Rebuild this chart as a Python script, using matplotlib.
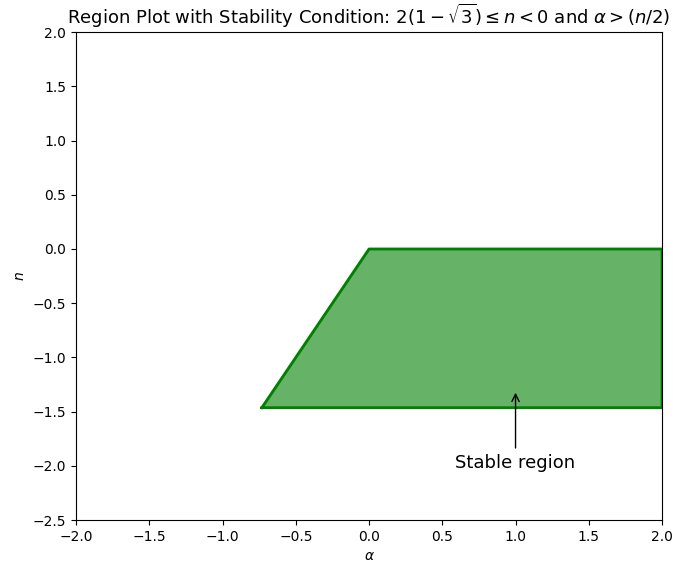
import numpy as np
import matplotlib
matplotlib.use("Agg")
import matplotlib.pyplot as plt

# stability condition: 2(1 - sqrt(3)) <= n < 0 and alpha > n/2
n_bounds = [2 * (1 - np.sqrt(3)), 0.0]
alpha_max = 2.0
x_limits = [-2.0, 2.0]
y_limits = [-2.5, 2.0]
label_text = "Stable region"
label_pos = (1.0, -1.97)
arrow_tip = (1.0, -1.3)

n = np.array(n_bounds)
alpha_edge = n / 2

fig = plt.figure(figsize=(6.73, 5.64), dpi=100)
ax = fig.add_axes([0.113, 0.078, 0.8707, 0.865])

ax.fill_betweenx(n, alpha_edge, alpha_max, color='green', alpha=0.6)
ax.plot(list(alpha_edge) + [alpha_max, alpha_max, alpha_edge[0]],
        list(n) + [n[1], n[0], n[0]], color='green', linewidth=2)

ax.annotate(label_text, xy=arrow_tip, xytext=label_pos,
            ha='center', va='center', fontsize=13,
            arrowprops=dict(arrowstyle='->', color='black'))

ax.set_xlim(x_limits)
ax.set_ylim(y_limits)
ax.set_xlabel(r'$\alpha$')
ax.set_ylabel(r'$n$')
ax.set_title(r'Region Plot with Stability Condition: $2(1-\sqrt{3}) \leq n < 0$ and $\alpha > (n/2)$',
             fontsize=13)

fig.savefig('out.png', dpi=100, facecolor='white')
